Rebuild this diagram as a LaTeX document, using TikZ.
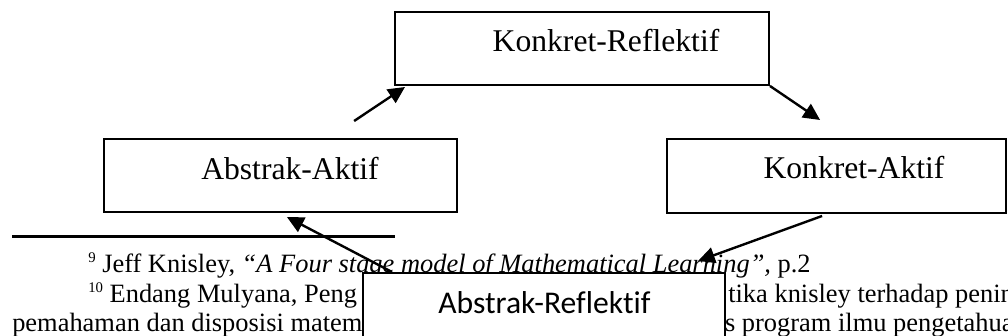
\documentclass[tikz,border=0pt]{standalone}
\usepackage{fontspec}
\setmainfont{Liberation Serif}
\newfontfamily\calibri[Ligatures=NoCommon]{Carlito}
\usetikzlibrary{arrows.meta,calc}

\tikzset{
	stagebox/.style={draw, line width=1.4pt, fill=white, inner sep=0pt},
	stagetext/.style={anchor=base, inner sep=0pt, font=\fontsize{22.5}{27}\selectfont},
	fnline/.style={anchor=base west, inner sep=0pt, font=\fontsize{18.8}{22}\selectfont},
	flow/.style={line width=1.7pt, -{Triangle[length=0.42cm,width=0.4cm]}}
}
\newcommand{\fnmark}[1]{\raisebox{0.25cm}{\fontsize{10.5}{12}\selectfont #1}}

\begin{document}
\begin{tikzpicture}
		%%%%% START %%%%%
		\clip (0,0) rectangle (25.2,8.4);
		
		% footnotes of the page
		\draw[line width=2.1pt] (0.3,2.49) -- (9.875,2.49);
		\node[fnline] (fn9) at (2.2,1.575) {\fnmark{9} Jeff Knisley, \textit{“A Four stage model of Mathematical Learning”,} p.2};
		\node[fnline] (fn10) at (2.2,0.825) {\fnmark{10} Endang Mulyana, Peng};
		\node[fnline] (fn10r) at (18.2,0.825) {tika knisley terhadap peningkatan};
		\node[fnline] (fnnext) at (0.3,0.1) {pemahaman dan disposisi matem};
		\node[fnline] (fnnextr) at (18.12,0.1) {s program ilmu pengetahuan};
		
		% the four stages
		\node[stagebox, minimum width=9.35cm, minimum height=1.825cm] (kr) at (14.55,7.1875) {};
		\node[stagetext] (krt) at (15.15,7.1) {Konkret-Reflektif};
		
		\node[stagebox, minimum width=8.825cm, minimum height=1.825cm] (aa) at (7.0125,4.0125) {};
		\node[stagetext] (aat) at (7.25,3.92) {Abstrak-Aktif};
		
		\node[stagebox, minimum width=8.475cm, minimum height=1.85cm] (ka) at (20.9125,4.0) {};
		\node[stagetext] (kat) at (21.35,3.94) {Konkret-Aktif};
		
		\node[stagebox, minimum width=9.05cm, minimum height=2cm] (ar) at (13.6,0.575) {};
		\node[stagetext, font=\calibri\fontsize{22.5}{27}\selectfont] (art) at (13.61,0.57) {Abstrak-Reflektif};
		
		% arrows round the cycle
		\draw[flow] ($(aa.north)+(1.84,0.425)$) -- ($(kr.south west)+(0.275,-0.025)$);
		\draw[flow] (kr.south east) -- ($(ka.north)+(-0.41,0.45)$);
		\draw[flow] ($(ka.south)+(-0.36,-0.05)$) -- ($(ar.north east)+(-0.7,0.275)$);
		\draw[flow] ($(ar.north west)+(0.75,0)$) -- ($(aa.south)+(0.16,-0.1)$);
		
		%%%%% END %%%%%
\end{tikzpicture}
\end{document}
